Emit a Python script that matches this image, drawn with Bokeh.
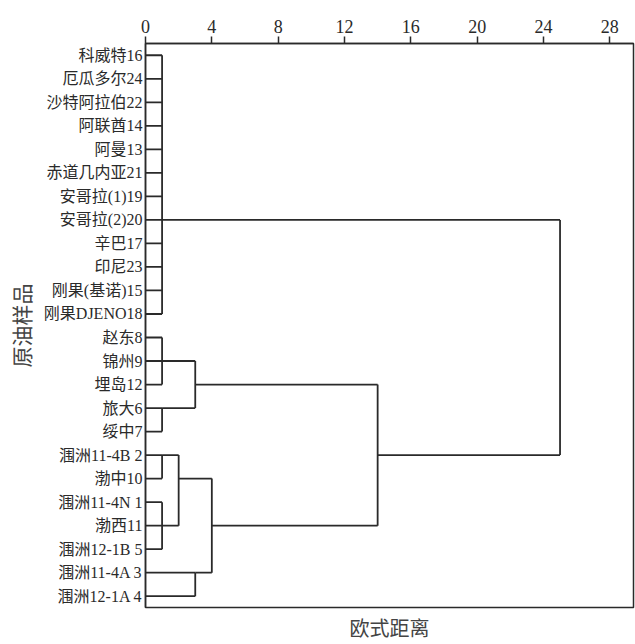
from bokeh.plotting import figure
from bokeh.models import Range1d, LinearAxis, FixedTicker
from bokeh.embed import file_html
from bokeh.resources import INLINE

# leaf labels, top to bottom
leaf_labels = ["科威特16", "厄瓜多尔24", "沙特阿拉伯22", "阿联酋14", "阿曼13", "赤道几内亚21",
               "安哥拉(1)19", "安哥拉(2)20", "辛巴17", "印尼23", "刚果(基诺)15", "刚果DJENO18",
               "赵东8", "锦州9", "埋岛12", "旅大6", "绥中7", "涠洲11-4B 2", "渤中10",
               "涠洲11-4N 1", "渤西11", "涠洲12-1B 5", "涠洲11-4A 3", "涠洲12-1A 4"]

# cluster nodes: name, children (leaf indices or node names), join distance, row where the joined cluster leaves
node_names = ["A", "B1", "B2", "B", "C1", "C2", "C12", "C3", "C", "BC", "ALL"]
node_children = [list(range(0, 12)), [12, 13, 14], [15, 16], ["B1", "B2"], [17, 18], [19, 20, 21],
                 ["C1", "C2"], [22, 23], ["C12", "C3"], ["B", "C"], ["A", "BC"]]
node_dist = [1, 1, 1, 3, 1, 1, 2, 3, 4, 14, 25]
node_row = [7, 13, 15, 14, 17, 20, 18, 22, 20, 17, None]

x_ticks = [0, 4, 8, 12, 16, 20, 24, 28]

FONT = "'Liberation Serif', 'Noto Sans CJK SC'"
INK = "#2a2a2a"

info = {}
for n, c, d, r in zip(node_names, node_children, node_dist, node_row):
    info[n] = (c, d, r)

def pos(child):
    if isinstance(child, int):
        return 0.0, child
    c, d, r = info[child]
    return d, r

x0, y0, x1, y1 = [], [], [], []
for n in node_names:
    c, d, r = info[n]
    rows = []
    for ch in c:
        cx, cy = pos(ch)
        x0.append(cx); y0.append(cy); x1.append(d); y1.append(cy)
        rows.append(cy)
    x0.append(d); y0.append(min(rows)); x1.append(d); y1.append(max(rows))

p = figure(width=635, height=644, output_backend="svg", toolbar_location=None,
           x_range=Range1d(0, 29.43), y_range=Range1d(23.48, -0.5),
           x_axis_location="above", min_border_left=145, min_border_right=2,
           min_border_top=43, min_border_bottom=37)
p.grid.visible = False
p.outline_line_color = INK
p.outline_line_width = 1.5
p.background_fill_color = "white"
p.border_fill_color = "white"

p.segment(x0=x0, y0=y0, x1=x1, y1=y1, line_color=INK, line_width=1.8)

xa = p.xaxis[0]
xa.ticker = FixedTicker(ticks=x_ticks)
xa.major_tick_out = 7
xa.major_tick_in = 0
xa.minor_tick_line_color = None
xa.axis_line_color = INK
xa.axis_line_width = 1.5
xa.major_tick_line_color = INK
xa.major_tick_line_width = 1.5
xa.major_label_text_font = FONT
xa.major_label_text_font_size = "18px"
xa.major_label_text_color = INK
xa.major_label_standoff = 4

ya = p.yaxis[0]
ya.ticker = FixedTicker(ticks=list(range(len(leaf_labels))))
ya.major_label_overrides = {i: t for i, t in enumerate(leaf_labels)}
ya.major_tick_out = 0
ya.major_tick_in = 0
ya.minor_tick_line_color = None
ya.axis_line_color = INK
ya.axis_line_width = 1.5
ya.major_label_text_font = FONT
ya.major_label_text_font_size = "16px"
ya.major_label_text_color = INK
ya.major_label_standoff = 3
ya.axis_label = "原油样品"
ya.axis_label_text_font = FONT
ya.axis_label_text_font_size = "21px"
ya.axis_label_text_font_style = "normal"
ya.axis_label_text_color = "#444444"
ya.axis_label_standoff = 6

xb = LinearAxis(axis_label="欧式距离")
xb.ticker = FixedTicker(ticks=[])
xb.major_tick_line_color = None
xb.minor_tick_line_color = None
xb.axis_line_color = None
xb.major_label_text_font_size = "0px"
xb.axis_label_text_font = FONT
xb.axis_label_text_font_size = "20px"
xb.axis_label_text_font_style = "normal"
xb.axis_label_text_color = "#444444"
xb.axis_label_standoff = 10
p.add_layout(xb, "below")

open("out.html", "w").write(file_html(p, INLINE))
